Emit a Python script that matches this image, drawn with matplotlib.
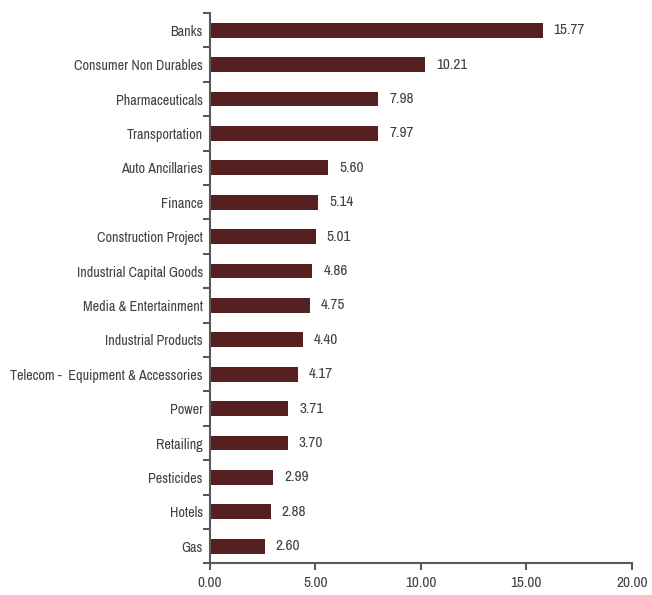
import matplotlib
matplotlib.use("Agg")
import matplotlib.pyplot as plt
from matplotlib import font_manager
import numpy as np

sectors = ["Banks", "Consumer Non Durables", "Pharmaceuticals", "Transportation",
           "Auto Ancillaries", "Finance", "Construction Project",
           "Industrial Capital Goods", "Media & Entertainment",
           "Industrial Products", "Telecom -  Equipment & Accessories", "Power",
           "Retailing", "Pesticides", "Hotels", "Gas"]
weights = [15.77, 10.21, 7.98, 7.97, 5.60, 5.14, 5.01, 4.86, 4.75, 4.40,
           4.17, 3.71, 3.70, 2.99, 2.88, 2.60]
x_ticks = [0, 5, 10, 15, 20]

bar_color = "#561f20"
axis_color = "#595959"
text_color = "#404040"

# look for a narrow font, the reference uses a condensed face
narrow = None
for f in font_manager.fontManager.ttflist:
    if "Narrow" in f.name or "Condensed" in f.name:
        narrow = f.name
        break
if narrow is None:
    narrow = "DejaVu Sans"
    lab_size, val_size, x_size = 9, 9.5, 9.5
else:
    lab_size, val_size, x_size = 10.2, 11, 11
plt.rcParams["font.family"] = [narrow, "DejaVu Sans"]

fig = plt.figure(figsize=(6.52, 5.95), dpi=100)
ax = fig.add_axes([0.322, 0.053, 0.647, 0.925])

pos = np.arange(len(sectors))[::-1]
ax.barh(pos, weights, height=0.43, color=bar_color)

for p, w in zip(pos, weights):
    ax.text(w + 0.52, p, "{:.2f}".format(w), va="center", ha="left",
            fontsize=val_size, color=text_color)

ax.set_ylim(-0.5, len(sectors) - 0.5)
ax.set_xlim(0, 20)
ax.set_yticks(pos)
ax.set_yticklabels(sectors, fontsize=lab_size, color=text_color)
ax.set_yticks(np.arange(-0.5, len(sectors), 1), minor=True)
ax.tick_params(axis="y", which="major", length=0, pad=5)
ax.tick_params(axis="y", which="minor", length=5, width=1.5, color=axis_color)

ax.set_xticks(x_ticks)
ax.set_xticklabels(["{:.2f}".format(t) for t in x_ticks], fontsize=x_size,
                   color=text_color)
ax.tick_params(axis="x", length=5, width=1.5, color=axis_color, pad=4)

for side in ["top", "right"]:
    ax.spines[side].set_visible(False)
for side in ["left", "bottom"]:
    ax.spines[side].set_color(axis_color)
    ax.spines[side].set_linewidth(1.5)

fig.savefig("out.png", dpi=100)
